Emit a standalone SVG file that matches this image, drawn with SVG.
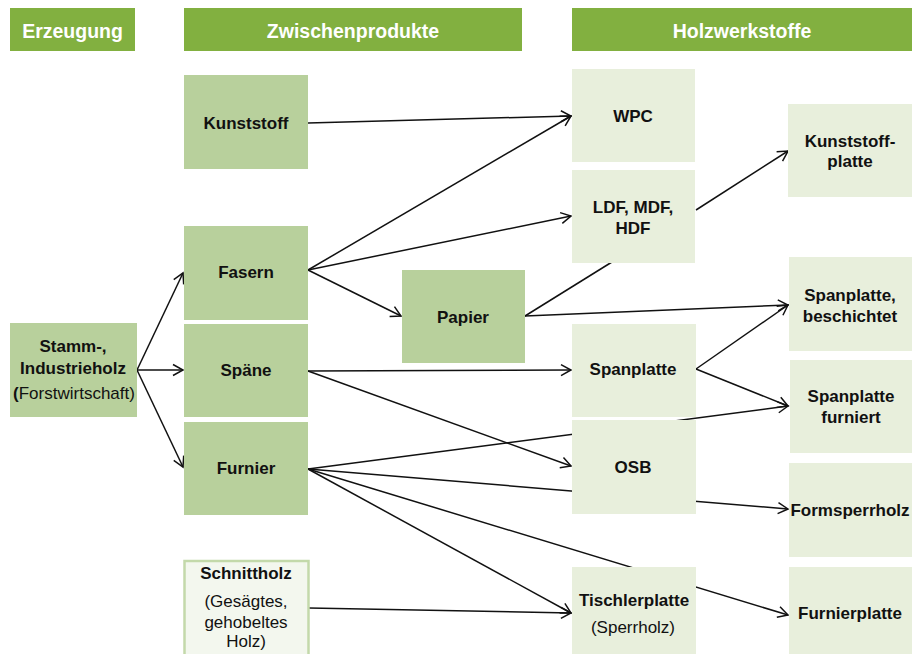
<svg xmlns="http://www.w3.org/2000/svg" width="912" height="654" viewBox="0 0 912 654">
  <style>
    .hdr { fill: #82b040; }
    .hdr-t { font-family: "Liberation Sans", Arial, sans-serif; font-weight: bold; font-size: 19.5px; fill: #ffffff; text-anchor: middle; }
    .mid { fill: #b8d09c; }
    .light { fill: #e8efdc; }
    .cut { fill: #f3f7ee; stroke: #c3d9aa; stroke-width: 2.5; }
    .t { font-family: "Liberation Sans", Arial, sans-serif; font-size: 17px; fill: #111111; text-anchor: middle; }
    .b { font-weight: bold; }
    .edge { fill: none; stroke: #111111; stroke-width: 1.5; }
    .arr { marker-end: url(#open); }
  </style>
  <defs>
    <marker id="open" viewBox="-12 -7 14 14" refX="0" refY="0" markerWidth="14" markerHeight="14" markerUnits="userSpaceOnUse" orient="auto">
      <path d="M-10,-5.5 L0,0 L-10,5.5" fill="none" stroke="#111111" stroke-width="1.5" stroke-linejoin="miter"/>
    </marker>
  </defs>

  <rect width="912" height="654" fill="#ffffff"/>

  <!-- column headers -->
  <g id="header-erzeugung">
    <rect class="hdr" x="10" y="8" width="125" height="43"/>
    <text class="hdr-t" x="72.5" y="38">Erzeugung</text>
  </g>
  <g id="header-zwischenprodukte">
    <rect class="hdr" x="184" y="8" width="338" height="43"/>
    <text class="hdr-t" x="353" y="38">Zwischenprodukte</text>
  </g>
  <g id="header-holzwerkstoffe">
    <rect class="hdr" x="572" y="8" width="340" height="43"/>
    <text class="hdr-t" x="742" y="38">Holzwerkstoffe</text>
  </g>

  <!-- connectors (drawn first so boxes sit on top) -->
  <g id="connectors">
    <line class="edge arr" x1="137" y1="370" x2="183" y2="273"/>
    <line class="edge arr" x1="137" y1="370" x2="183" y2="370"/>
    <line class="edge arr" x1="137" y1="370" x2="183" y2="467"/>

    <line class="edge arr" x1="308" y1="123" x2="571" y2="116"/>
    <line class="edge arr" x1="308" y1="270" x2="571" y2="116"/>
    <line class="edge arr" x1="308" y1="270" x2="571" y2="216"/>
    <line class="edge arr" x1="308" y1="270" x2="401" y2="316"/>

    <line class="edge" x1="525" y1="316" x2="620" y2="257"/>
    <line class="edge arr" x1="525" y1="316" x2="788" y2="305"/>
    <line class="edge arr" x1="696" y1="210" x2="788" y2="151"/>

    <line class="edge arr" x1="308" y1="371" x2="571" y2="370"/>
    <line class="edge arr" x1="308" y1="371" x2="571" y2="466"/>

    <line class="edge arr" x1="696" y1="369" x2="788" y2="305"/>
    <line class="edge arr" x1="696" y1="369" x2="788" y2="406"/>

    <line class="edge arr" x1="308" y1="469" x2="788" y2="406"/>
    <line class="edge arr" x1="308" y1="469" x2="788" y2="509"/>
    <line class="edge arr" x1="308" y1="469" x2="788" y2="615"/>
    <line class="edge arr" x1="308" y1="469" x2="571" y2="613"/>

    <line class="edge arr" x1="309" y1="608" x2="571" y2="613"/>
  </g>

  <!-- Erzeugung -->
  <g id="node-stammholz">
    <rect class="mid" x="10" y="323" width="127" height="94"/>
    <text class="t b" x="73" y="352">Stamm-,</text>
    <text class="t b" x="73" y="374">Industrieholz</text>
    <text class="t" x="74" y="399"><tspan class="b">(</tspan>Forstwirtschaft)</text>
  </g>

  <!-- Zwischenprodukte -->
  <g id="node-kunststoff">
    <rect class="mid" x="184" y="75" width="124" height="94"/>
    <text class="t b" x="246" y="129">Kunststoff</text>
  </g>
  <g id="node-fasern">
    <rect class="mid" x="184" y="226" width="124" height="94"/>
    <text class="t b" x="246" y="278">Fasern</text>
  </g>
  <g id="node-spaene">
    <rect class="mid" x="184" y="324" width="124" height="93"/>
    <text class="t b" x="246" y="376">Späne</text>
  </g>
  <g id="node-furnier">
    <rect class="mid" x="184" y="422" width="124" height="93"/>
    <text class="t b" x="246" y="474">Furnier</text>
  </g>
  <g id="node-papier">
    <rect class="mid" x="402" y="270" width="123" height="93"/>
    <text class="t b" x="463" y="323">Papier</text>
  </g>
  <g id="node-schnittholz">
    <rect class="cut" x="184.5" y="561" width="124" height="100"/>
    <text class="t b" x="246" y="579">Schnittholz</text>
    <text class="t" x="246" y="607">(Gesägtes,</text>
    <text class="t" x="246" y="628">gehobeltes</text>
    <text class="t" x="246" y="647">Holz)</text>
  </g>

  <!-- Holzwerkstoffe -->
  <g id="node-wpc">
    <rect class="light" x="572" y="69" width="123" height="93"/>
    <text class="t b" x="633" y="122">WPC</text>
  </g>
  <g id="node-ldf">
    <rect class="light" x="572" y="170" width="123" height="93"/>
    <text class="t b" x="633" y="213">LDF, MDF,</text>
    <text class="t b" x="633" y="234">HDF</text>
  </g>
  <g id="node-spanplatte">
    <rect class="light" x="572" y="324" width="124" height="93"/>
    <text class="t b" x="633" y="375">Spanplatte</text>
  </g>
  <g id="node-osb">
    <rect class="light" x="572" y="420" width="124" height="94"/>
    <text class="t b" x="633" y="473">OSB</text>
  </g>
  <g id="node-tischlerplatte">
    <rect class="light" x="572" y="567" width="124" height="90"/>
    <text class="t b" x="634" y="606">Tischlerplatte</text>
    <text class="t" x="633" y="633">(Sperrholz)</text>
  </g>
  <g id="node-kunststoffplatte">
    <rect class="light" x="788" y="104" width="124" height="93"/>
    <text class="t b" x="850" y="147">Kunststoff-</text>
    <text class="t b" x="850" y="167">platte</text>
  </g>
  <g id="node-spanplatte-beschichtet">
    <rect class="light" x="789" y="257" width="123" height="94"/>
    <text class="t b" x="850" y="301">Spanplatte,</text>
    <text class="t b" x="850" y="322">beschichtet</text>
  </g>
  <g id="node-spanplatte-furniert">
    <rect class="light" x="790" y="360" width="122" height="93"/>
    <text class="t b" x="851" y="402">Spanplatte</text>
    <text class="t b" x="851" y="423">furniert</text>
  </g>
  <g id="node-formsperrholz">
    <rect class="light" x="789" y="463" width="123" height="94"/>
    <text class="t b" x="850" y="516">Formsperrholz</text>
  </g>
  <g id="node-furnierplatte">
    <rect class="light" x="789" y="567" width="123" height="90"/>
    <text class="t b" x="850" y="619">Furnierplatte</text>
  </g>
</svg>
